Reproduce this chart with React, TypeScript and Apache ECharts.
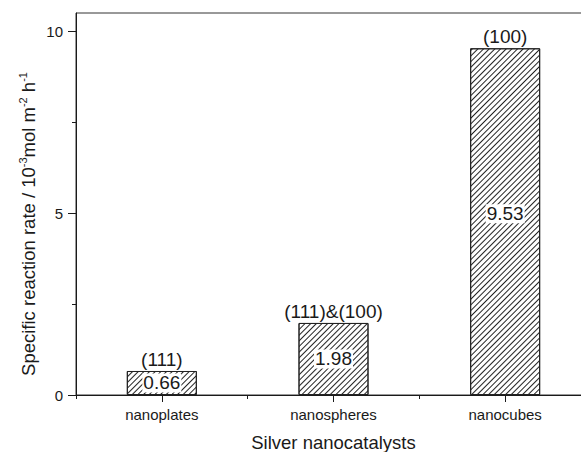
import React, { useEffect, useRef } from "react";
import * as echarts from "echarts";

const categories = ["nanoplates", "nanospheres", "nanocubes"];
const rates = [0.66, 1.98, 9.53];
const facetLabels = ["(111)", "(111)&(100)", "(100)"];
const yMajorTicks = [0, 5, 10];
const yMinorTicks = [2.5, 7.5];
const yTitle = "{n|Specific reaction rate / 10}{s|-3}{n|mol m}{s|-2}{n| h}{s|-1}";
const xTitle = "Silver nanocatalysts";

const FONT = "'Liberation Sans', Arial, Helvetica, sans-serif";
const INK = "#1a1a1a";

export default function App() {
  const ref = useRef<HTMLDivElement>(null);
  useEffect(() => {
    if (!ref.current) return;
    const chart = echarts.init(ref.current, undefined, { renderer: "svg" });
    const option: any = {
      animation: false,
      backgroundColor: "#fff",
      textStyle: { fontFamily: FONT },
      grid: {
        left: 76,
        top: 13,
        width: 515,
        height: 382,
        show: true,
        borderColor: "#333",
        borderWidth: 1,
        containLabel: false,
        outerBoundsMode: "none",
      },
      xAxis: [
        {
          type: "category",
          data: categories,
          position: "bottom",
          axisLine: { show: true, lineStyle: { color: INK, width: 1 } },
          axisTick: { show: true, alignWithLabel: true, length: 7, lineStyle: { color: INK } },
          axisLabel: { color: INK, fontSize: 15, margin: 12, fontFamily: FONT },
          splitLine: { show: false },
          name: xTitle,
          nameLocation: "middle",
          nameGap: 38,
          nameTextStyle: { color: INK, fontSize: 18.5, fontFamily: FONT },
        },
        {
          type: "category",
          data: categories,
          position: "bottom",
          axisLine: { show: false },
          axisTick: { show: true, alignWithLabel: false, length: 4, lineStyle: { color: INK } },
          axisLabel: { show: false },
          splitLine: { show: false },
        },
      ],
      yAxis: [
        {
          type: "value",
          min: 0,
          max: 10.5,
          position: "left",
          axisLine: { show: true, lineStyle: { color: INK, width: 1 } },
          axisTick: { show: true, length: 8, customValues: yMajorTicks, lineStyle: { color: INK } },
          axisLabel: {
            color: INK,
            fontSize: 15,
            margin: 13,
            customValues: yMajorTicks,
            fontFamily: FONT,
          },
          splitLine: { show: false },
        },
        {
          type: "value",
          min: 0,
          max: 10.5,
          position: "left",
          axisLine: { show: false },
          axisTick: { show: true, length: 4, customValues: yMinorTicks, lineStyle: { color: INK } },
          axisLabel: { show: false, customValues: yMinorTicks },
          splitLine: { show: false },
        },
      ],
      graphic: [
        {
          type: "text",
          x: 28,
          y: 224,
          rotation: Math.PI / 2,
          style: {
            text: yTitle,
            align: "center",
            verticalAlign: "middle",
            fill: INK,
            rich: {
              n: { fontSize: 18.5, fontFamily: FONT, fill: INK, lineHeight: 22 },
              s: { fontSize: 11, fontFamily: FONT, fill: INK, verticalAlign: "top", lineHeight: 22 },
            },
          },
        },
      ],
      series: [
        {
          type: "bar",
          xAxisIndex: 0,
          yAxisIndex: 0,
          barWidth: 70,
          data: rates.map((v, i) =>
            i === 2
              ? { value: v, label: { offset: [0, -8] } }
              : { value: v }
          ),
          itemStyle: {
            color: "#fff",
            borderColor: "#222",
            borderWidth: 1,
            decal: {
              symbol: "rect",
              symbolSize: 1,
              dashArrayX: [1, 0],
              dashArrayY: [1, 3],
              rotation: -Math.PI / 4,
              color: "#222",
            },
          },
          label: {
            show: true,
            position: "inside",
            color: INK,
            fontSize: 19,
            fontFamily: FONT,
            backgroundColor: "#fff",
            padding: [0, 1],
            lineHeight: 19,
            formatter: (p: any) => p.value.toFixed(2),
          },
          z: 2,
        },
        {
          type: "bar",
          xAxisIndex: 0,
          yAxisIndex: 0,
          barWidth: 70,
          barGap: "-100%",
          data: rates,
          itemStyle: { color: "rgba(0,0,0,0)" },
          label: {
            show: true,
            position: "top",
            distance: 2,
            color: INK,
            fontSize: 19,
            fontFamily: FONT,
            formatter: (p: any) => facetLabels[p.dataIndex],
          },
          silent: true,
          z: 3,
        },
      ],
    };
    chart.setOption(option);
    return () => chart.dispose();
  }, []);
  return <div ref={ref} style={{ width: 581, height: 452, position: "absolute", left: 0, top: 0 }} />;
}
